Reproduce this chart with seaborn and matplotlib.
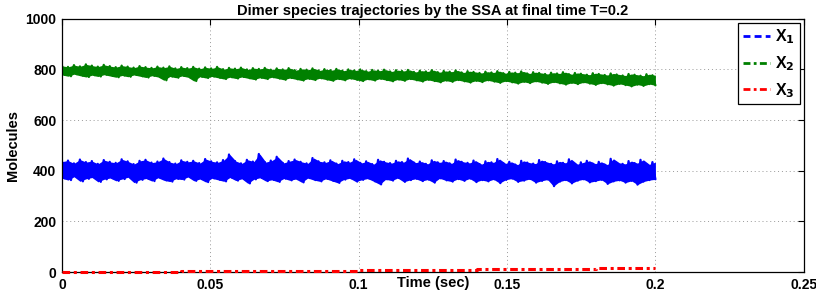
import numpy as np
import seaborn as sns
import matplotlib.pyplot as plt
from matplotlib.lines import Line2D

# values: upper and lower edges of each noisy band
x1_upper = [436, 440, 429, 444, 434, 438, 427, 442, 435, 431,
            445, 437, 426, 439, 443, 432, 436, 448, 434, 428,
            441, 435, 439, 430, 446, 437, 433, 442, 464, 438,
            429, 443, 436, 466, 434, 440, 455, 431, 438, 444,
            435, 429, 450, 437, 433, 441, 428, 439, 434, 445,
            431, 437, 426, 443, 435, 430, 439, 434, 448, 432,
            436, 427, 441, 433, 438, 429, 444, 435, 431, 440,
            426, 437, 433, 446, 429, 435, 424, 439, 432, 428,
            442, 434, 427, 437, 431, 445, 426, 433, 439, 428,
            435, 424, 447, 431, 427, 438, 430, 443, 425, 434]
x1_lower = [370, 363, 376, 358, 368, 373, 356, 366, 371, 360,
            367, 374, 353, 364, 369, 359, 372, 362, 357, 368,
            365, 375, 360, 367, 355, 370, 364, 358, 373, 361,
            368, 350, 366, 372, 359, 364, 356, 369, 362, 367,
            354, 371, 363, 358, 368, 360, 352, 365, 370, 357,
            364, 369, 358, 346, 366, 361, 371, 356, 363, 368,
            359, 365, 353, 370, 362, 357, 367, 360, 369, 355,
            363, 358, 366, 351, 364, 369, 356, 361, 367, 353,
            360, 365, 339, 357, 363, 350, 361, 366, 354, 359,
            364, 348, 358, 362, 353, 360, 345, 357, 363, 366]
x2_upper = [814, 810, 817, 812, 820, 815, 811, 818, 813, 809,
            815, 811, 807, 813, 809, 806, 811, 807, 812, 804,
            809, 805, 810, 803, 808, 804, 810, 801, 806, 803,
            807, 800, 805, 802, 806, 799, 804, 800, 805, 797,
            802, 799, 804, 796, 801, 797, 802, 795, 800, 796,
            800, 793, 798, 795, 799, 792, 797, 794, 798, 790,
            795, 792, 797, 789, 794, 791, 796, 788, 793, 790,
            786, 791, 788, 793, 785, 790, 787, 792, 784, 789,
            786, 782, 787, 784, 789, 781, 786, 783, 779, 785,
            782, 778, 784, 780, 776, 782, 779, 775, 781, 777]
x2_lower = [778, 773, 781, 775, 770, 777, 772, 779, 774, 769,
            776, 771, 778, 773, 768, 775, 770, 757, 772, 767,
            774, 769, 754, 771, 766, 772, 767, 762, 769, 764,
            770, 765, 760, 767, 762, 769, 764, 759, 766, 761,
            756, 763, 758, 765, 760, 755, 762, 757, 764, 759,
            754, 761, 756, 763, 758, 753, 760, 755, 762, 757,
            752, 759, 754, 749, 756, 751, 758, 753, 748, 755,
            750, 757, 752, 747, 754, 749, 744, 751, 746, 753,
            748, 743, 750, 745, 740, 747, 742, 749, 744, 739,
            746, 741, 736, 743, 738, 733, 740, 735, 742, 737]
x3_time = [0, 0.02, 0.04, 0.06, 0.08, 0.1, 0.12, 0.14, 0.16, 0.18, 0.2]
x3_vals = [0, 1, 2, 3, 5, 8, 9, 11, 12, 14, 15]

T_final = 0.2
labels = ['X$_1$', 'X$_2$', 'X$_3$']
colors = ['#0000ff', '#008000', '#ff0000']

sns.set_style('white')
plt.rcParams['font.family'] = ['Liberation Sans', 'DejaVu Sans']
plt.rcParams['font.weight'] = 'bold'
plt.rcParams['mathtext.default'] = 'bf'
for k in ['text.color', 'axes.labelcolor', 'xtick.color', 'ytick.color']:
    plt.rcParams[k] = 'black'

fig = plt.figure(figsize=(8.16, 2.99), dpi=100)
ax = fig.add_axes([0.076, 0.0903, 0.909, 0.847])

# band: fill between the edges, plus a zigzag through them for the noisy texture
t_half = np.linspace(0, T_final, len(x1_upper))
x1 = np.column_stack([x1_upper, x1_lower]).ravel()
x2 = np.column_stack([x2_upper, x2_lower]).ravel()
t = np.linspace(0, T_final, len(x1))

for up, lo, zz, c in [(x1_upper, x1_lower, x1, colors[0]),
                      (x2_upper, x2_lower, x2, colors[1])]:
    ax.fill_between(t_half, lo, up, color=c, lw=0)
    sns.lineplot(x=t, y=zz, ax=ax, color=c, lw=1.6, estimator=None, sort=False)
ax.step(x3_time, x3_vals, where='post', color=colors[2], lw=2.2,
        ls=(0, (2.5, 1.2, 1, 1.2)), zorder=3, clip_on=False)

ax.set_xlim(0, 0.25)
ax.set_ylim(0, 1000)
ax.set_xticks([0, 0.05, 0.1, 0.15, 0.2, 0.25])
ax.set_xticklabels(['0', '0.05', '0.1', '0.15', '0.2', '0.25'])
ax.set_yticks([0, 200, 400, 600, 800, 1000])
ax.grid(True, ls=(0, (1, 3)), color='#999999', lw=0.7)
ax.set_axisbelow(True)
ax.tick_params(direction='in', length=4, width=0.8, top=True, right=True,
               labelsize=10, pad=4, color='black')
for s in ax.spines.values():
    s.set_visible(True)
    s.set_color('black')
    s.set_linewidth(0.9)

ax.set_title('Dimer species trajectories by the SSA at final time T=0.2',
             fontsize=10.5, fontweight='bold', pad=3)
ax.text(0.5, -0.045, 'Time (sec)', transform=ax.transAxes, ha='center',
        va='center', fontsize=10.5, fontweight='bold')
ax.set_ylabel('Molecules', fontsize=10.5, fontweight='bold', labelpad=4)
ax.set_xlabel('')

handles = [Line2D([], [], color=colors[0], lw=2, ls=(0, (2.5, 1.5))),
           Line2D([], [], color=colors[1], lw=2, ls=(0, (2.5, 1.2, 1, 1.2))),
           Line2D([], [], color=colors[2], lw=2, ls=(0, (2.5, 1.2, 1, 1.2)))]
leg = ax.legend(handles, labels, loc='upper right', fontsize=11.5, frameon=True,
                fancybox=False, framealpha=1, edgecolor='black',
                handlelength=1.7, handletextpad=0.3, borderpad=0.3,
                labelspacing=0.5, borderaxespad=0,
                bbox_to_anchor=(0.9946, 0.984))
leg.get_frame().set_linewidth(0.9)

fig.savefig('out.png', dpi=100)
